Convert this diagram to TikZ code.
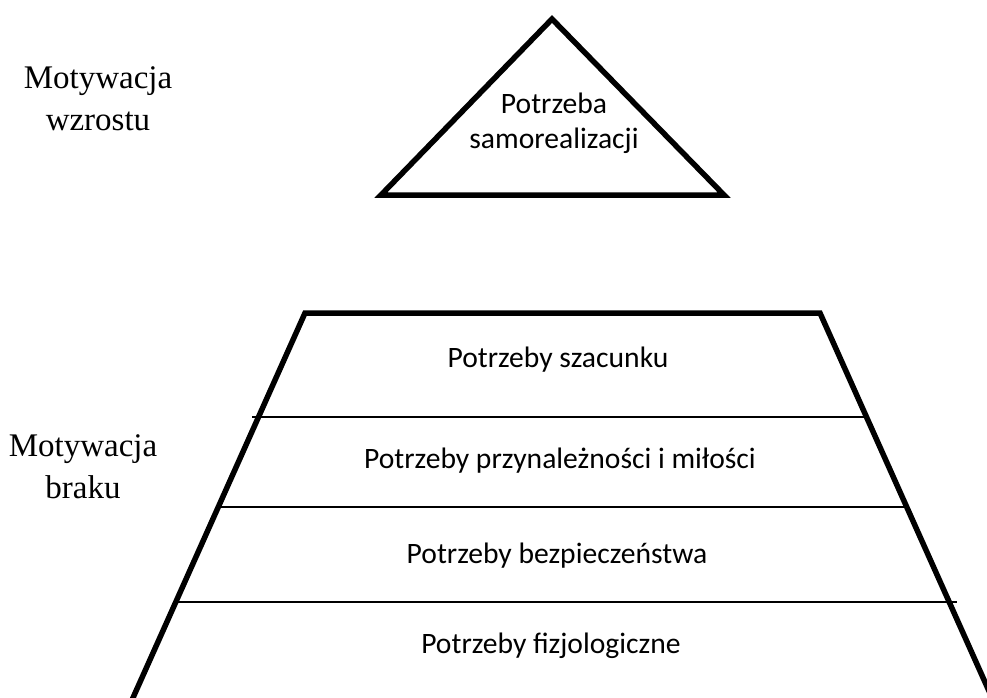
\documentclass[tikz,border=0pt]{standalone}
\usepackage{fontspec}
\setmainfont{Liberation Serif}
\newfontfamily\carlito{Carlito}
\usepackage{tikz}

\tikzset{
  gruba/.style={line width=5.5pt, line join=miter},
  cienka/.style={line width=1.4pt},
  poziom/.style={font=\carlito\fontsize{29.6}{35}\selectfont, inner sep=0pt, anchor=base, align=center},
  opis/.style={font=\fontsize{33}{42}\selectfont, inner sep=0pt, anchor=base, align=center}
}

\begin{document}
\begin{tikzpicture}[x=1pt,y=-1pt]
    \useasboundingbox (0,0) rectangle (987,697);
    % czubek piramidy
    \draw [gruba] (381,195) -- (552,19) -- (724,195) -- cycle;
    % podstawa piramidy
    \draw [gruba] (132,700) -- (305,313) -- (820,313) -- (993,700);
    \draw [cienka] (252,417) -- (866,417);
    \draw [cienka] (218,507) -- (907,507);
    \draw [cienka] (177,602) -- (957,602);
    \node [poziom] (samoreal) at (554,148) {Potrzeba\\samorealizacji};
    \node [poziom] (szacunek) at (558,367) {Potrzeby szacunku};
    \node [poziom] (milosc) at (560,468) {Potrzeby przynależności i miłości};
    \node [poziom] (bezp) at (557,563) {Potrzeby bezpieczeństwa};
    \node [poziom] (fizjo) at (551,653) {Potrzeby fizjologiczne};
    \node [opis] (wzrost) at (98,130) {Motywacja\\wzrostu};
    \node [opis] (braki) at (83,498) {Motywacja\\braku};
  \end{tikzpicture}
\end{document}
